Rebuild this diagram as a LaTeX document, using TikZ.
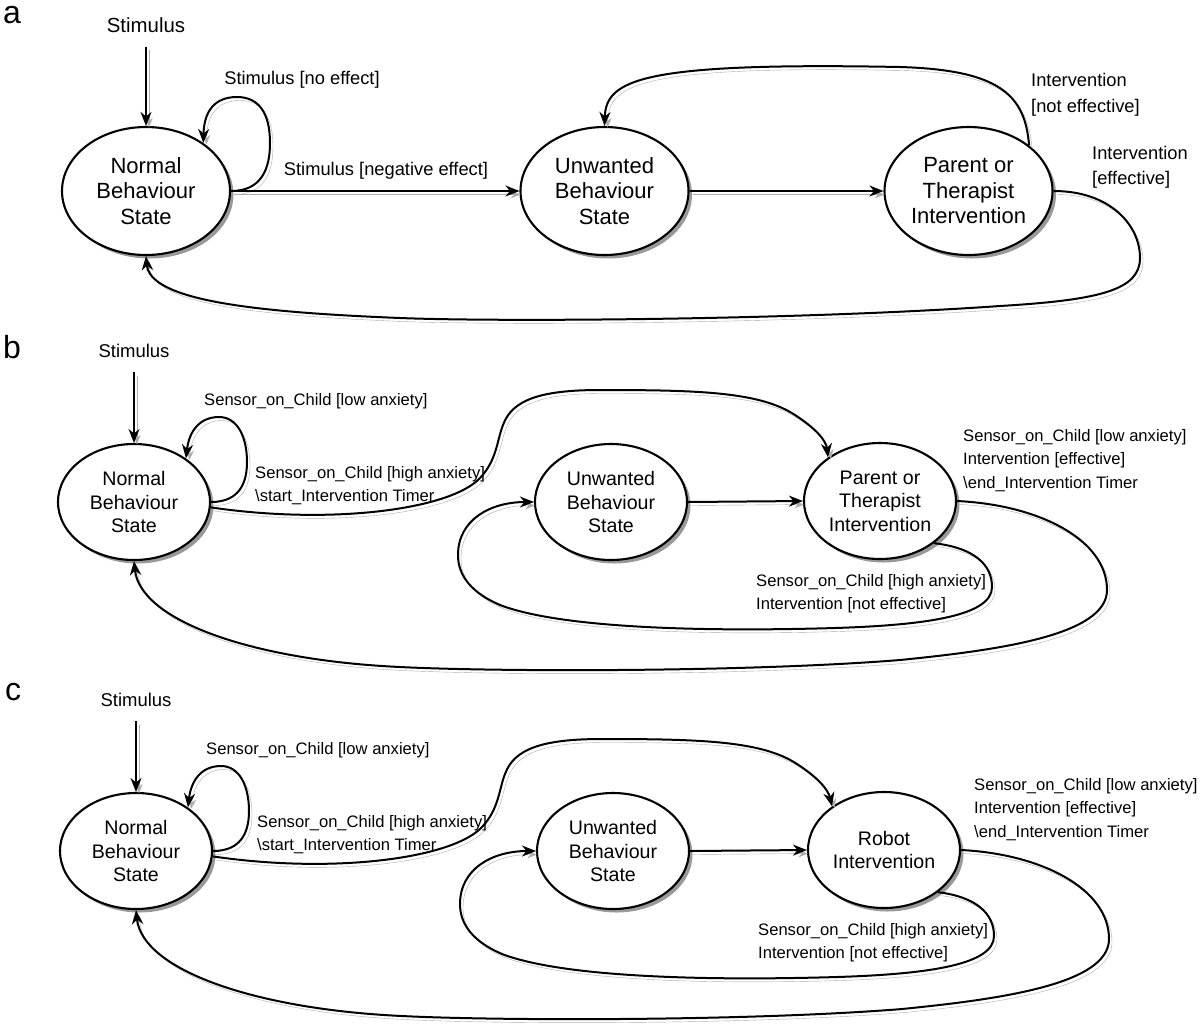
\documentclass[tikz,border=0pt]{standalone}
\usepackage{fontspec}
\setmainfont{Liberation Sans}
\usetikzlibrary{arrows.meta,shapes.geometric}
\newcommand\bcpanel[6]{%
\begin{scope}[shift={#2}]
\node[stimB] (s#1) at (134,351) {Stimulus};
\node[stB] (N#1) at (134,502) {Normal\\Behaviour\\State};
\node[stB] (U#1) at (611,502) {Unwanted\\Behaviour\\State};
\node[stB] (P#1) at (#5,501) {#4};
\draw[arr, shorten <=14pt] (s#1.south) -- (N#1.north);
\draw[arr] (N#1.east) .. controls (240,502) and (247,482) .. (247,462) .. controls (247,438) and (238,417) .. (219,417) .. controls (199,417) and (189,432) .. (N#1.40);
\draw[arr] (N#1.-4) .. controls (330,525) and (450,510) .. (480,478) .. controls (497,460) and (497,440) .. (503,425) .. controls (512,400) and (540,390) .. (600,390) .. controls (700,390) and (760,392) .. (795,415) .. controls (815,428) and (826,440) .. (P#1.140);
\draw[arr] (U#1.east) -- (P#1.west);
\draw[arr] (P#1.-38) .. controls (975,548) and (992,565) .. (992,587) .. controls (992,615) and (930,625) .. (835,628) .. controls (700,632) and (560,628) .. (500,605) .. controls (465,590) and (458,570) .. (458,555) .. controls (458,520) and (490,502) .. (U#1.west);
\draw[arr] (P#1.east) .. controls (1040,505) and (1107,540) .. (1107,590) .. controls (1107,635) and (1000,650) .. (900,660) .. controls (750,672) and (500,672) .. (400,667) .. controls (250,660) and (140,620) .. (N#1.south);
\node[lblB] (la#1) at (204,401) {Sensor\_on\_Child [low anxiety]};
\node[lblB] (lb#1) at (255,485.5) {Sensor\_on\_Child [high anxiety]\\\textbackslash start\_Intervention Timer};
\node[lblB] (lc#1) at (756,593.5) {Sensor\_on\_Child [high anxiety]\\Intervention [not effective]};
\node[lblB] (ld#1) at (#6,460.5) {Sensor\_on\_Child [low anxiety]\\Intervention [effective]\\\textbackslash end\_Intervention Timer};
\end{scope}}
\begin{document}
\begin{tikzpicture}[x=1pt,y=-1pt,
  stbase/.style={ellipse, draw, line width=2.1pt, fill=white, inner sep=0pt, align=center,
     preaction={fill=black!40, transform canvas={xshift=3.5pt,yshift=-3.5pt}}},
  stA/.style={stbase, minimum width=168pt, minimum height=128pt, font=\fontsize{22}{25.5}\selectfont},
  stB/.style={stbase, minimum width=152pt, minimum height=116pt, font=\fontsize{19.6}{23.5}\selectfont},
  arr/.style={line width=2pt, -{Stealth[length=14pt,width=11pt,inset=4.5pt]},
     preaction={draw=black!32, transform canvas={xshift=3pt,yshift=-3.5pt}}},
  lblA/.style={inner sep=0pt, align=left, font=\fontsize{18.3}{25.5}\selectfont},
  lblB/.style={inner sep=0pt, align=left, anchor=west, font=\fontsize{16.6}{23.5}\selectfont},
  stimA/.style={inner sep=0pt, font=\fontsize{20.4}{24}\selectfont},
  stimB/.style={inner sep=0pt, font=\fontsize{18.5}{22}\selectfont},
  letter/.style={inner sep=0pt, anchor=base west, font=\fontsize{32}{36}\selectfont}
]
\useasboundingbox[fill=white] (0,0) rectangle (1204,1029);
% panel letters
\node[letter] (pa) at (3,23) {a};
\node[letter] (pb) at (3,358) {b};
\node[letter] (pc) at (5,700) {c};
% panel a
\node[stimA] (sa) at (146,25) {Stimulus};
\node[stA] (Na) at (146,191) {Normal\\Behaviour\\State};
\node[stA] (Ua) at (604.5,191) {Unwanted\\Behaviour\\State};
\node[stA] (Pa) at (968.5,191) {Parent or\\Therapist\\Intervention};
\draw[arr, shorten <=14pt] (sa.south) -- (Na.north);
\draw[arr] (Na.east) .. controls (262,191) and (270,168) .. (270,143) .. controls (270,112) and (258,97) .. (237,97) .. controls (214,97) and (204,112) .. (Na.40);
\draw[arr] (Na.east) -- (Ua.west);
\draw[arr] (Ua.east) -- (Pa.west);
\draw[arr] (Pa.37) .. controls (1025,95) and (1000,70) .. (900,67) .. controls (640,62) and (606,80) .. (Ua.north);
\draw[arr] (Pa.east) .. controls (1110,191) and (1140,225) .. (1140,258) .. controls (1140,290) and (1100,300) .. (1000,306) .. controls (800,320) and (500,322) .. (400,318) .. controls (250,312) and (150,300) .. (Na.south);
\node[lblA] (l1a) at (302,80) {Stimulus [no effect]};
\node[lblA] (l2a) at (386,171) {Stimulus [negative effect]};
\node[lblA, anchor=west] (l3a) at (1031,95) {Intervention\\{}[not effective]};
\node[lblA, anchor=west] (l4a) at (1092,167.5) {Intervention\\{}[effective]};
% panels b and c
\bcpanel{b}{(0,0)}{b}{Parent or\\Therapist\\Intervention}{880}{963}
\bcpanel{c}{(2,349)}{c}{Robot\\Intervention}{882}{972}
\end{tikzpicture}
\end{document}
